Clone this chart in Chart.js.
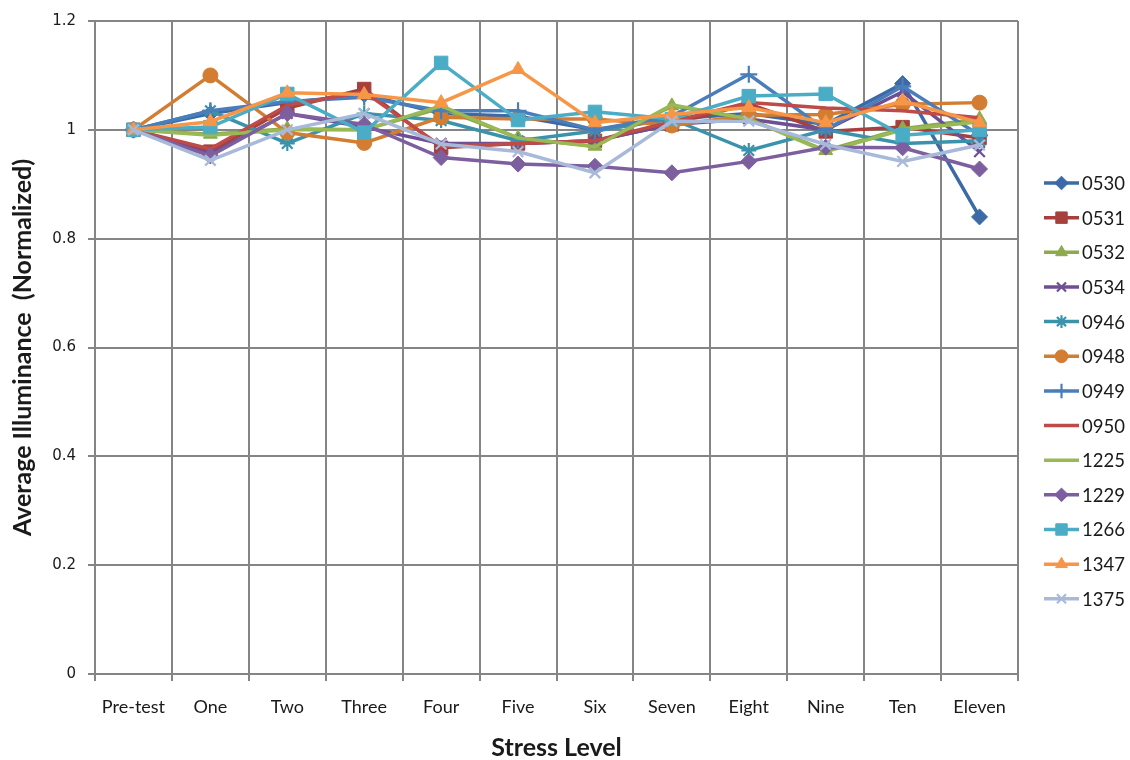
<!DOCTYPE html>
<html>
<head>
<meta charset="utf-8">
<script src="https://cdn.jsdelivr.net/npm/chart.js@4/dist/chart.umd.min.js"></script>
<style>
  html, body { margin: 0; padding: 0; background: #ffffff; }
  #wrap { width: 1130px; height: 760px; }
</style>
</head>
<body>
<div id="wrap"><canvas id="c" width="1130" height="760"></canvas></div>
<script>
// Stress levels on the x axis
const stressLevels = ['Pre-test', 'One', 'Two', 'Three', 'Four', 'Five', 'Six', 'Seven', 'Eight', 'Nine', 'Ten', 'Eleven'];

// Y axis tick labels (0 .. 1.2 in steps of 0.2)
const yTickLabels = ['0', '0.2', '0.4', '0.6', '0.8', '1', '1.2'];

// Normalized average illuminance per unit
const s0530 = [1, 1.030, 1.050, 1.065, 1.030, 1.025, 1.000, 1.020, 1.030, 1.010, 1.085, 0.840];
const s0531 = [1, 0.960, 1.040, 1.075, 0.967, 0.975, 0.980, 1.010, 1.048, 0.997, 1.005, 0.985];
const s0532 = [1, 0.992, 1.002, 1.000, 1.040, 0.985, 0.970, 1.044, 1.020, 0.962, 1.002, 1.020];
const s0534 = [1, 0.955, 1.030, 1.005, 0.975, 0.975, 0.980, 1.010, 1.020, 1.000, 1.070, 0.960];
const s0946 = [1, 1.035, 0.975, 1.030, 1.017, 0.980, 0.998, 1.020, 0.962, 1.000, 0.975, 0.980];
const s0948 = [1, 1.100, 0.995, 0.976, 1.023, 1.020, 1.020, 1.008, 1.027, 1.028, 1.047, 1.050];
const s0949 = [1, 1.035, 1.052, 1.060, 1.035, 1.035, 1.000, 1.025, 1.102, 1.000, 1.080, 0.990];
const s0950 = [1, 0.965, 1.045, 1.070, 0.970, 0.975, 0.980, 1.015, 1.050, 1.040, 1.035, 1.022];
const s1225 = [1, 0.990, 1.000, 1.000, 1.044, 0.985, 0.969, 1.046, 1.020, 0.960, 1.000, 1.015];
const s1229 = [1, 0.952, 1.030, 1.010, 0.949, 0.937, 0.933, 0.921, 0.942, 0.968, 0.967, 0.928];
const s1266 = [1, 1.005, 1.066, 0.995, 1.123, 1.018, 1.033, 1.020, 1.062, 1.066, 0.990, 1.000];
const s1347 = [1, 1.015, 1.068, 1.065, 1.050, 1.111, 1.013, 1.028, 1.041, 1.013, 1.053, 1.013];
const s1375 = [1, 0.944, 1.000, 1.030, 0.974, 0.960, 0.921, 1.016, 1.016, 0.973, 0.942, 0.972];

function series(label, data, color, pointStyle, radius) {
  const lineMarker = pointStyle === 'cross' || pointStyle === 'crossRot' || pointStyle === 'star';
  return {
    label: label,
    data: data,
    borderColor: color,
    backgroundColor: color,
    borderWidth: 3.5,
    tension: 0,
    pointStyle: pointStyle || 'circle',
    pointRadius: pointStyle ? radius : 0,
    pointHoverRadius: pointStyle ? radius : 0,
    pointBackgroundColor: color,
    pointBorderColor: color,
    pointBorderWidth: lineMarker ? 2.2 : 1
  };
}

const datasets = [
  series('0530', s0530, '#3C6AA6', 'rectRot', 8),
  series('0531', s0531, '#A7403C', 'rect', 9.5),
  series('0532', s0532, '#8DAA4D', 'triangle', 8),
  series('0534', s0534, '#6F4F94', 'crossRot', 7.5),
  series('0946', s0946, '#3A93AA', 'star', 7.5),
  series('0948', s0948, '#D27D32', 'circle', 7.5),
  series('0949', s0949, '#4A7EBB', 'cross', 8.5),
  series('0950', s0950, '#BE4B48', null, 0),
  series('1225', s1225, '#98B954', null, 0),
  series('1229', s1229, '#7D5FA0', 'rectRot', 8),
  series('1266', s1266, '#4BACC6', 'rect', 9.5),
  series('1347', s1347, '#F79646', 'triangle', 8),
  series('1375', s1375, '#A8B9D9', 'crossRot', 7.5)
];
// later series sit on top of earlier ones
datasets.forEach((d, i) => { d.order = datasets.length - i; });

// Vertical legend with a line sample and marker for each series
const sideLegend = {
  id: 'sideLegend',
  afterDraw(chart, args, opts) {
    const ctx = chart.ctx;
    chart.data.datasets.forEach((ds, i) => {
      const y = opts.top + i * opts.step;
      ctx.save();
      ctx.strokeStyle = ds.borderColor;
      ctx.lineWidth = 3.5;
      ctx.beginPath();
      ctx.moveTo(opts.x, y);
      ctx.lineTo(opts.x + opts.len, y);
      ctx.stroke();
      if (ds.pointRadius > 0) {
        ctx.fillStyle = ds.pointBackgroundColor;
        ctx.strokeStyle = ds.pointBorderColor;
        ctx.lineWidth = ds.pointBorderWidth;
        Chart.helpers.drawPoint(ctx, {
          pointStyle: ds.pointStyle,
          radius: ds.pointRadius * 0.85,
          rotation: 0,
          borderWidth: ds.pointBorderWidth
        }, opts.x + opts.len / 2, y);
      }
      ctx.fillStyle = '#1a1a1a';
      ctx.font = opts.font;
      ctx.textBaseline = 'middle';
      ctx.textAlign = 'left';
      ctx.fillText(ds.label, opts.x + opts.len + 3, y + 1);
      ctx.restore();
    });
  }
};

const gridColor = '#858585';

new Chart(document.getElementById('c'), {
  type: 'line',
  data: { labels: stressLevels, datasets: datasets },
  plugins: [sideLegend],
  options: {
    responsive: false,
    animation: false,
    layout: { padding: { top: 15, right: 112, left: 0, bottom: 0 } },
    plugins: {
      legend: { display: false },
      tooltip: { enabled: false },
      sideLegend: { x: 1044, len: 35, top: 183, step: 34.65, font: '18.5px Lato, "Open Sans", sans-serif' }
    },
    scales: {
      x: {
        offset: true,
        grid: { offset: true, color: gridColor, lineWidth: 2, tickLength: 7, drawTicks: true },
        border: { color: gridColor, width: 2 },
        ticks: {
          color: '#1a1a1a',
          padding: 15,
          maxRotation: 0,
          autoSkip: false,
          font: { family: 'Lato, "Open Sans", sans-serif', size: 18 }
        },
        title: {
          display: true,
          text: 'Stress Level',
          color: '#1a1a1a',
          font: { family: 'Lato, "Open Sans", sans-serif', size: 25, weight: 'bold', lineHeight: 1.0 },
          padding: { top: 0, bottom: 0 }
        },
        afterFit(scale) { scale.height = 86; }
      },
      y: {
        min: 0,
        max: 1.2,
        ticks: {
          stepSize: 0.2,
          color: '#1a1a1a',
          padding: 12,
          font: { family: '"DejaVu Sans", Verdana, sans-serif', size: 15 },
          callback: (v, i) => yTickLabels[i]
        },
        grid: { color: gridColor, lineWidth: 2, tickLength: 7 },
        border: { color: gridColor, width: 2 },
        title: {
          display: true,
          text: 'Average Illuminance  (Normalized)',
          color: '#1a1a1a',
          font: { family: 'Lato, "Open Sans", sans-serif', size: 25, weight: 'bold', lineHeight: 1.1 },
          padding: { top: 9, bottom: 0 }
        },
        afterFit(scale) { scale.width = 95; }
      }
    }
  }
});
</script>
</body>
</html>
